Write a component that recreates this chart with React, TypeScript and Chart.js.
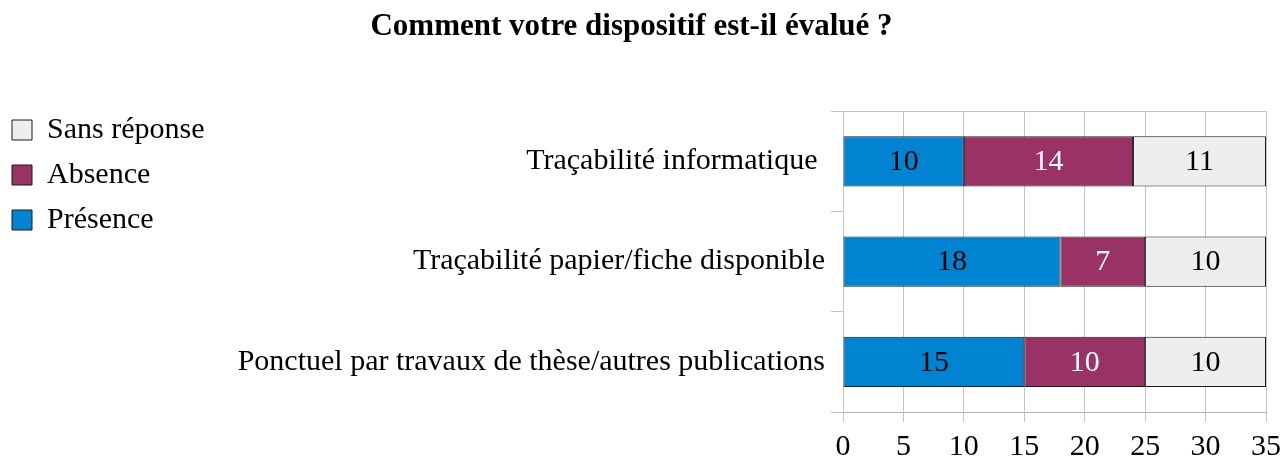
import React, { useEffect, useRef } from "react";
import { Chart, registerables } from "chart.js";

Chart.register(...registerables);

const title = "Comment votre dispositif est-il évalué ?";
const categories = [
  "Traçabilité informatique ",
  "Traçabilité papier/fiche disponible",
  "Ponctuel par travaux de thèse/autres publications",
];
const seriesNames = ["Présence", "Absence", "Sans réponse"];
const presence = [10, 18, 15];
const absence = [14, 7, 10];
const sansReponse = [11, 10, 10];
const xMin = 0;
const xMax = 35;
const xStep = 5;

const FONT = "'Liberation Serif', 'DejaVu Serif', 'Times New Roman', serif";
const colors = ["#0084d1", "#993366", "#eeeeee"];
const labelColors = ["#000000", "#ffffff", "#000000"];
const GRID = "#c4c4c4";
const SHIFT = 3;
const PLOT_LEFT = 843 + SHIFT;
const X_AXIS_HEIGHT = 49;

const valueLabels = {
  id: "valueLabels",
  afterDatasetsDraw(chart: any) {
    const ctx = chart.ctx;
    ctx.save();
    ctx.font = `30px ${FONT}`;
    ctx.textAlign = "center";
    ctx.textBaseline = "middle";
    chart.data.datasets.forEach((ds: any, di: number) => {
      const meta = chart.getDatasetMeta(di);
      if (meta.hidden) return;
      meta.data.forEach((el: any, i: number) => {
        const v = ds.data[i];
        if (!v) return;
        ctx.fillStyle = labelColors[di];
        ctx.fillText(String(v), (el.x + el.base) / 2, el.y + 1);
      });
    });
    ctx.restore();
  },
};

export default function App() {
  const ref = useRef<HTMLCanvasElement | null>(null);
  useEffect(() => {
    if (!ref.current) return;
    const data = [presence, absence, sansReponse];
    const chart = new Chart(ref.current, {
      type: "bar",
      data: {
        labels: categories,
        datasets: seriesNames.map((name, i) => ({
          label: name,
          data: data[i],
          backgroundColor: colors[i],
          borderColor: "#1a1a1a",
          borderWidth: 1,
          borderSkipped: false,
          barPercentage: 0.5,
          categoryPercentage: 1,
        })),
      },
      options: {
        indexAxis: "y",
        responsive: false,
        animation: false,
        color: "#000",
        layout: { padding: { left: 0, right: 19, top: 0, bottom: 0 } },
        plugins: {
          title: {
            display: true,
            text: title,
            color: "#000",
            font: { family: FONT, size: 31, weight: "bold", lineHeight: 1.2 },
            padding: { top: 8, bottom: 66 },
          },
          legend: {
            position: "left",
            align: "start",
            reverse: true,
            title: {
              display: true,
              text: "",
              font: { size: 10, lineHeight: 1 },
              padding: { top: 90, bottom: 0 },
            },
            labels: {
              boxWidth: 20,
              boxHeight: 20,
              padding: 15,
              color: "#000",
              font: { family: FONT, size: 30 },
            },
          },
          tooltip: { enabled: false },
        },
        scales: {
          x: {
            stacked: true,
            min: xMin,
            max: xMax,
            ticks: {
              stepSize: xStep,
              color: "#000",
              font: { family: FONT, size: 30, lineHeight: 1 },
              padding: 10,
            },
            grid: { color: GRID, tickLength: 10, tickColor: GRID },
            border: { color: "#b3b3b3" },
            afterFit: (scale: any) => {
              scale.height = X_AXIS_HEIGHT;
              scale.paddingLeft = 0;
              scale.paddingRight = 0;
            },
          },
          y: {
            stacked: true,
            ticks: {
              color: "#000",
              font: { family: FONT, size: 30 },
              padding: 6,
            },
            grid: {
              offset: true,
              tickLength: 12,
              tickColor: GRID,
              color: (c: any) => (c.index === 0 ? GRID : "rgba(0,0,0,0)"),
            },
            border: { color: GRID },
            afterFit: (scale: any) => {
              const lw = scale.chart.legend ? scale.chart.legend.width : 0;
              scale.width = PLOT_LEFT - lw;
            },
          },
        },
      },
      plugins: [valueLabels],
    });
    return () => chart.destroy();
  }, []);
  return (
    <div style={{ position: "absolute", left: -SHIFT, top: 0, width: 1285 + SHIFT, height: 461 }}>
      <canvas ref={ref} width={1285 + SHIFT} height={461} />
    </div>
  );
}
